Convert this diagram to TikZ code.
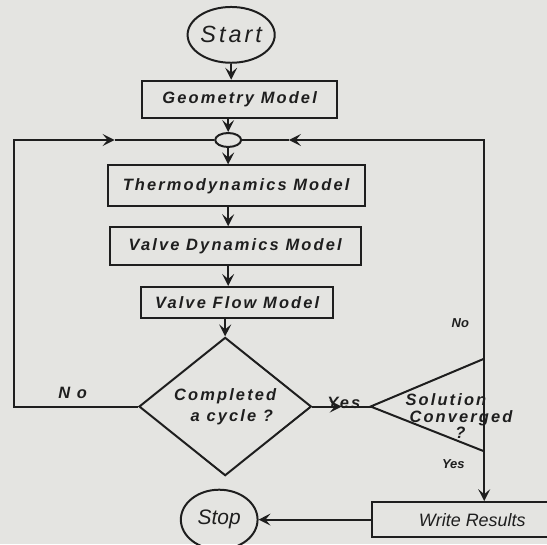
\documentclass[tikz,border=0pt]{standalone}
\usepackage{fontspec}
\setmainfont{Liberation Sans}
\newfontfamily\spc[LetterSpace=13]{Liberation Sans}
\usetikzlibrary{arrows.meta,shapes.geometric}
\definecolor{bg}{RGB}{228,228,225}
\definecolor{ink}{RGB}{30,30,30}
\begin{document}
\begin{tikzpicture}[x=1pt,y=-1pt,
  line width=2pt,
  every path/.style={draw=ink},
  arr/.style={-{Stealth[length=12pt,width=12pt,inset=5pt]}},
  boxfont/.style={font=\spc\fontsize{16.5}{19}\selectfont\bfseries\itshape, text=ink},
  flowbox/.style={draw=ink, rectangle, inner sep=0pt, boxfont},
  oval/.style={draw=ink, ellipse, inner sep=0pt},
  lbl/.style={boxfont, inner sep=0pt},
  small/.style={font=\fontsize{13}{15}\selectfont\bfseries\itshape, text=ink, inner sep=0pt}
]
\useasboundingbox (0,0) rectangle (547,544);
\fill[bg] (0,0) rectangle (547,544);

% nodes
\node[oval, minimum width=76pt, minimum height=56pt, text=ink,
      font=\spc\fontsize{23.5}{26}\selectfont\itshape] (start) at (231,34) {Start};
\node[flowbox, minimum width=195pt, minimum height=37pt] (geom) at (239.5,98.5) {Geometry Model};
\node[oval, minimum width=26pt, minimum height=14pt] (merge) at (228,139.5) {};
\node[flowbox, minimum width=258pt, minimum height=41pt] (thermo) at (236,185.5) {Thermodynamics Model};
\node[flowbox, minimum width=252pt, minimum height=38pt] (vdyn) at (235,246) {Valve Dynamics Model};
\node[flowbox, minimum width=192pt, minimum height=31pt] (vflow) at (237,302.5) {Valve Flow Model};
\node[draw=ink, diamond, minimum width=173pt, minimum height=131pt, inner sep=0pt,
      align=center, boxfont] (cyc) at (225,407) {Completed\\[2pt]\ \ a cycle ?};
\node[flowbox, minimum width=202pt, minimum height=35pt,
      font=\fontsize{18}{20}\selectfont\itshape] (write) at (473,520.5) {Write Results};
\node[oval, minimum width=77pt, minimum height=60pt, text=ink,
      font=\fontsize{21}{24}\selectfont\itshape] (stop) at (219,520.5) {Stop};

% decision triangle (Solution Converged ?)
\coordinate (cvT) at (485,359);
\coordinate (cvB) at (485,452);
\coordinate (cvA) at (371,407);
\draw (cvT) -- (cvA) -- (cvB);
\node[lbl, anchor=north west, align=left] (conv) at (405,393)
  {Solution\\[-2pt]\hspace*{4pt}Converged\\[-3pt]\hspace*{50pt}?};

% helper coordinates
\coordinate (lx) at (13,139.5);
\coordinate (la) at (114,139.5);
\coordinate (ra) at (289,139.5);
\coordinate (ya) at (342,407);

% main flow
\draw[arr] (start.south) -- (start.south |- geom.north);
\draw[arr] (geom.south -| merge.north) -- (merge.north);
\draw[arr] (merge.south) -- (merge.south |- thermo.north);
\draw[arr] (thermo.south -| merge) -- (vdyn.north -| merge);
\draw[arr] (vdyn.south -| merge) -- (vflow.north -| merge);
\draw[arr] (vflow.south -| cyc.north) -- (cyc.north);

% No loop (left)
\draw[arr] (cyc.west) -| (lx) -- (la);
\draw (la) -- (merge.west);

% Yes to triangle
\draw[arr] (cyc.east) -- (ya);
\draw (ya) -- (cvA);

% No loop (right)
\draw (cvT) -- (cvB);
\draw[arr] (cvT) |- (ra);
\draw (ra) -- (merge.east);

% Yes down to results, then stop
\draw[arr] (cvB) -- (cvB |- write.north);
\draw[arr] (write.west) -- (write.west -| stop.east);

% labels
\node[lbl] (lno) at (72,393) {N o};
\node[lbl, anchor=base] (lyes) at (344,409) {Yes};
\node[small] (rno) at (461,323) {No};
\node[small] (ryes) at (454,465) {Yes};
\end{tikzpicture}
\end{document}
